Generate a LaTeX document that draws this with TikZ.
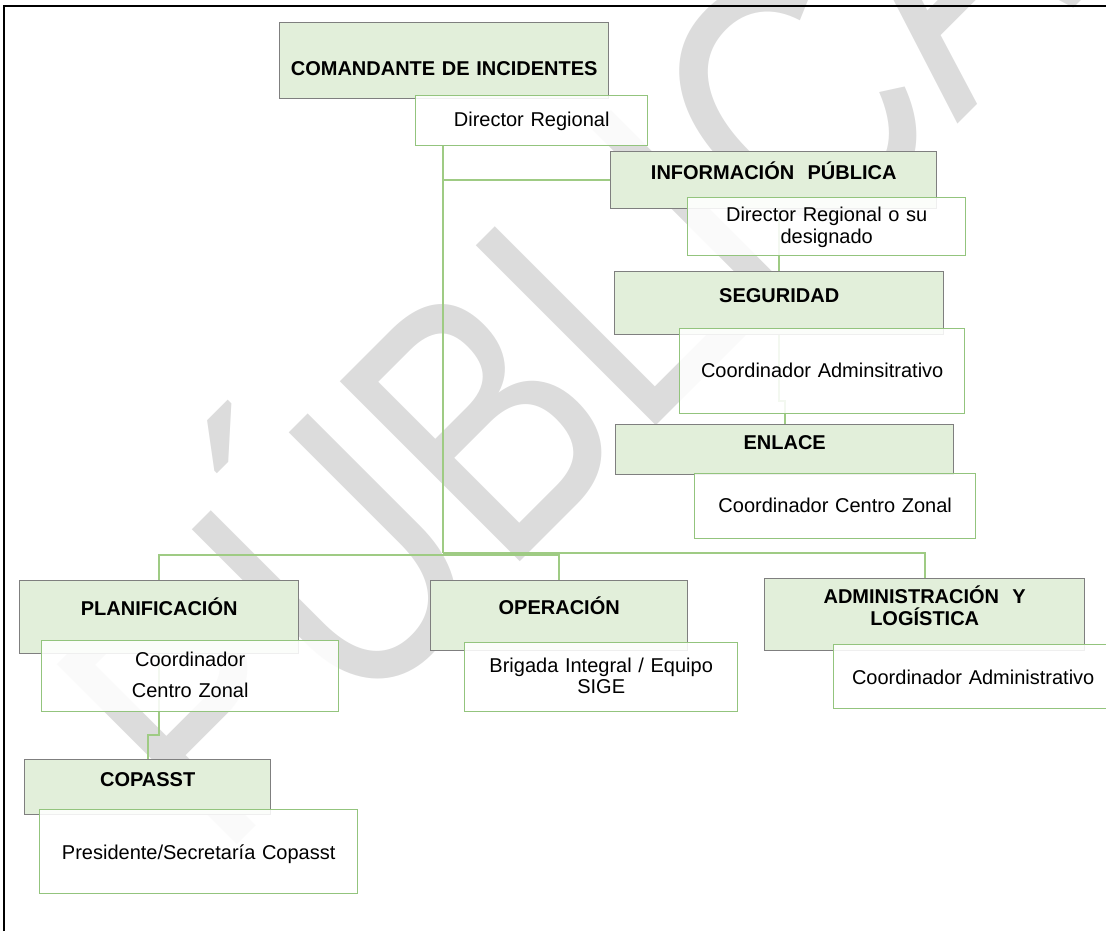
\documentclass[tikz,border=0pt]{standalone}
\usepackage{fontspec}
\setmainfont{Liberation Sans}
\usetikzlibrary{backgrounds}
\definecolor{roleFill}{HTML}{E2EFDA}
\definecolor{roleLine}{HTML}{7F7F7F}
\definecolor{whoLine}{HTML}{93C47D}
\definecolor{linkGreen}{HTML}{9FCB84}
\definecolor{markGray}{HTML}{DCDCDC}
\tikzstyle{role} = [rectangle, anchor=north west, inner sep=0pt, align=center, fill=roleFill, draw=roleLine, line width=0.7pt, font=\fontsize{10}{11}\selectfont\bfseries]
\tikzstyle{who} = [rectangle, anchor=north west, inner sep=0pt, align=center, fill=white, fill opacity=0.88, text opacity=1, draw=whoLine, line width=0.7pt, font=\fontsize{10}{11}\selectfont]
\tikzstyle{link} = [draw=linkGreen, line width=1pt]

\begin{document}
\begin{tikzpicture}[x=0.5pt, y=-0.5pt]
        \useasboundingbox (0,0) rectangle (1106,931);
        \draw [line width=0.8pt] (4,931) -- (4,6) -- (1106,6);
        % command
        \node (cmd) [role, text width=164.5pt, text height=26.5pt, text depth=11.5pt] at (279,22) {COMANDANTE DE INCIDENTES};
        \node (cmdwho) [who, text width=116pt, text height=15.5pt, text depth=9.5pt] at (415,95) {Director Regional};
        % staff
        \node (info) [role, text width=163pt, text height=14pt, text depth=14.5pt] at (610,151) {INFORMACIÓN\ \ PÚBLICA};
        \node (infowho) [who, text width=139pt, text height=12pt, text depth=17pt] at (687,197) {Director Regional o su\\designado};
        \node (segu) [role, text width=164.5pt, text height=15.5pt, text depth=16pt] at (614,271) {SEGURIDAD};
        \node (seguwho) [who, text width=142.5pt, text height=24.5pt, text depth=18pt] at (679,328) {Coordinador Adminsitrativo};
        \node (enl) [role, text width=169pt, text height=12.5pt, text depth=12.5pt] at (615,424) {ENLACE};
        \node (enlwho) [who, text width=140.5pt, text height=19.5pt, text depth=13pt] at (694,473) {Coordinador Centro Zonal};
        % sections
        \node (plan) [role, text width=139.5pt, text height=17.5pt, text depth=19pt] at (19,580) {PLANIFICACIÓN};
        \node (planwho) [who, text width=148.5pt, text height=13pt, text depth=22.5pt] at (41,640) {Coordinador\\[4.5pt]Centro Zonal};
        \node (cop) [role, text width=123pt, text height=13.5pt, text depth=14pt] at (24,759) {COPASST};
        \node (copwho) [who, text width=159pt, text height=25pt, text depth=17pt] at (39,809) {Presidente/Secretaría Copasst};
        \node (oper) [role, text width=128.5pt, text height=17pt, text depth=18pt] at (430,580) {OPERACIÓN};
        \node (operwho) [who, text width=136.5pt, text height=15pt, text depth=19.5pt] at (464,642) {Brigada Integral / Equipo\\[-0.5pt]SIGE};
        \node (adm) [role, text width=160pt, text height=12.5pt, text depth=23.5pt] at (764,578) {ADMINISTRACIÓN\ \ Y\\LOGÍSTICA};
        \node (admwho) [who, text width=139.5pt, text height=20pt, text depth=12pt] at (833,644) {Coordinador Administrativo};
        \coordinate (hub) at (443,553);
        \begin{scope}[on background layer]
        \node (mark) [rotate=45, xscale=0.78, anchor=base, inner sep=0pt, text=markGray, font=\fontsize{185}{185}\selectfont] at (657,425) {PÚBLICA};
        \draw [link] (cmdwho.south -| hub) -- (hub);
        \draw [link] (info.west -| hub) -- (info.west);
        \draw [link] (segu.north |- info.south) -- (segu.north);
        \draw [link] (segu.south) -- ++(0,66) -| (enl.north);
        \draw [link] (hub) -| (adm.north);
        \draw [link] (hub) ++(0,2) -| (plan.north);
        \draw [link] (hub) ++(0,2) -| (oper.north);
        \draw [link] (plan.south) -- ++(0,81) -| (cop.north);
        \end{scope}
\end{tikzpicture}
\end{document}
